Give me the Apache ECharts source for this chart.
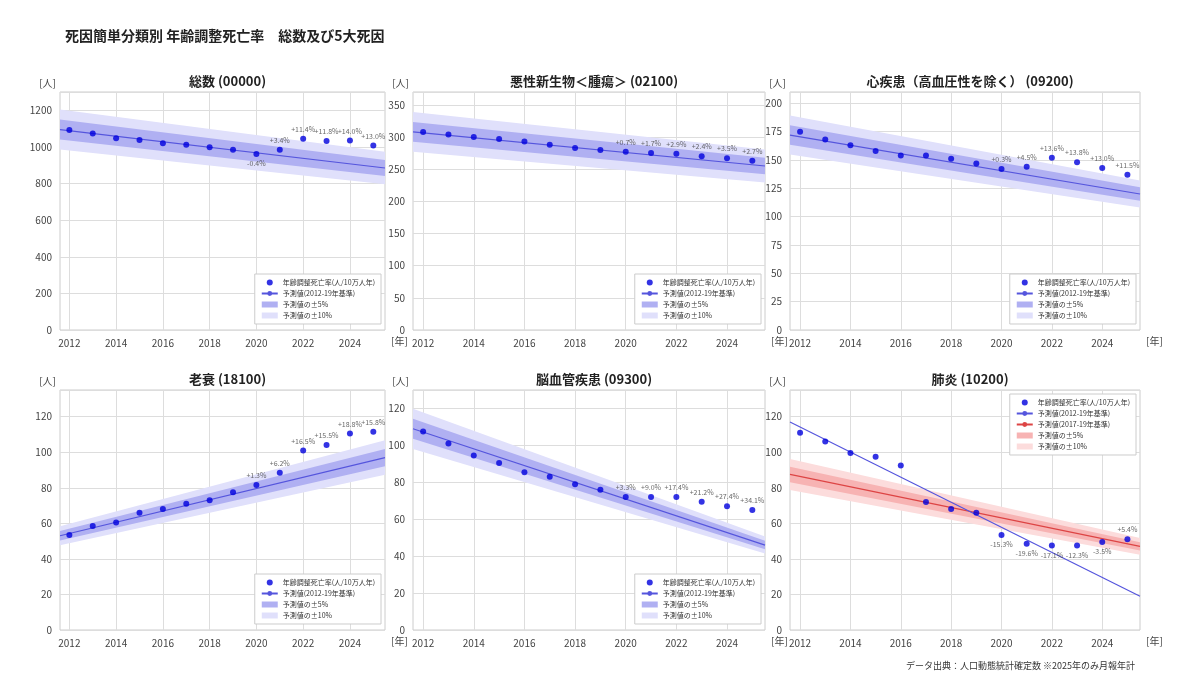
<!DOCTYPE html>
<html><head><meta charset="utf-8">
<script src="https://cdn.jsdelivr.net/npm/echarts@6/dist/echarts.min.js"></script>
<style>html,body{margin:0;background:#fff}#c{width:1200px;height:690px}</style>
</head><body><div id="c"></div>
<script>
// データ
const years = [2012,2013,2014,2015,2016,2017,2018,2019,2020,2021,2022,2023,2024,2025];
const tickYears = [2012,2014,2016,2018,2020,2022,2024];
const titles = ['総数 (00000)','悪性新生物＜腫瘍＞ (02100)','心疾患（高血圧性を除く） (09200)','老衰 (18100)','脳血管疾患 (09300)','肺炎 (10200)'];
const totalVals = [1093,1073,1048,1038,1020,1012,998,985,962,985,1045,1033,1035,1008];
const cancerVals = [308,304,300,297,293,288,283,280,277,275,274,270,267,263];
const heartVals = [175,168,163,158,154,154,151,147,142,144,152,148,143,137];
const senilityVals = [53.5,58.5,60.5,66,68,71,73,77.5,81.5,88.5,101,104,110.5,111.5];
const strokeVals = [107.5,101,94.5,90.5,85.5,83,79,76,72,72,72,69.5,67,65];
const pneumoniaVals = [111,106,99.5,97.5,92.5,72,68,66,53.5,48.5,47.5,47.5,49.5,51];
const totalPct = ['-0.4%','+3.4%','+11.4%','+11.8%','+14.0%','+13.0%'];
const cancerPct = ['+0.7%','+1.7%','+2.9%','+2.4%','+3.5%','+2.7%'];
const heartPct = ['+0.3%','+4.5%','+13.6%','+13.8%','+13.0%','+11.5%'];
const senilityPct = ['+1.3%','+6.2%','+16.5%','+15.5%','+18.8%','+15.8%'];
const strokePct = ['+3.3%','+9.0%','+17.4%','+21.2%','+27.4%','+34.1%'];
const pneumoniaPct = ['-15.3%','-19.6%','-17.1%','-12.3%','-3.5%','+5.4%'];
// 予測線の端点 (2011.6 と 2025.5)
const lineX = [2011.6, 2025.5];
const totalPred = [1095, 885];
const cancerPred = [308, 255];
const heartPred = [172, 120];
const senilityPred = [53, 97];
const strokePred = [109, 46];
const pneumoniaPred1219 = [117, 19];
const pneumoniaPred1719 = [87.5, 47];
const yMax = [1300, 370, 210, 135, 130, 135];
const yStep = [200, 50, 25, 20, 20, 20];

const panels = [
  {vals: totalVals, pct: totalPct, pred: totalPred},
  {vals: cancerVals, pct: cancerPct, pred: cancerPred},
  {vals: heartVals, pct: heartPct, pred: heartPred},
  {vals: senilityVals, pct: senilityPct, pred: senilityPred},
  {vals: strokeVals, pct: strokePct, pred: strokePred},
  {vals: pneumoniaVals, pct: pneumoniaPct, pred: pneumoniaPred1719, extra: pneumoniaPred1219, red: true}
];
const cols = [[60,385],[413,765],[790,1140]];
const rows = [[92,330],[390,630]];

const LP = '年齢調整死亡率(人/10万人年)', L1 = '予測値(2012-19年基準)', L2 = '予測値(2017-19年基準)';
const B5 = '予測値の±5%', B10 = '予測値の±10%';

let grids = [], xAxes = [], yAxes = [], series = [], legends = [], titleList = [];
titleList.push({text: '死因簡単分類別 年齢調整死亡率　総数及び5大死因', left: 60, top: 24,
  textStyle: {fontSize: 14, fontWeight: 'bold', color: '#222'}});
titleList.push({text: 'データ出典：人口動態統計確定数 ※2025年のみ月報年計', right: 60, top: 656,
  textStyle: {fontSize: 9, fontWeight: 'normal', color: '#333'}});

// 帯 (予測値 × (1±f)) を多角形で描く
function band(pred, f) {
  return function (params, api) {
    if (params.dataIndex !== 0) return;
    const up = lineX.map((x, k) => api.coord([x, pred[k] * (1 + f)]));
    const lo = lineX.map((x, k) => api.coord([x, pred[k] * (1 - f)])).reverse();
    return {type: 'polygon', shape: {points: up.concat(lo)}, style: {fill: api.visual('color')}};
  };
}

panels.forEach(function (p, i) {
  const c = cols[i % 3], r = rows[Math.floor(i / 3)];
  grids.push({left: c[0], top: r[0], width: c[1] - c[0], height: r[1] - r[0], show: true, borderColor: '#ccc', borderWidth: 1});
  titleList.push({text: titles[i], left: (c[0] + c[1]) / 2, top: r[0] - 22, textAlign: 'center',
    textStyle: {fontSize: 13, fontWeight: 'bold', color: '#222'}});
  xAxes.push({type: 'value', gridIndex: i, min: 2011.6, max: 2025.5, name: '[年]', nameGap: 6,
    nameTextStyle: {color: '#444', fontSize: 10, verticalAlign: 'top', padding: [6, 0, 0, 0]},
    axisLine: {show: false}, axisTick: {show: false, customValues: tickYears},
    axisLabel: {customValues: tickYears, color: '#444', fontSize: 10, formatter: v => String(v)},
    splitLine: {show: true, lineStyle: {color: '#ddd'}}});
  yAxes.push({type: 'value', gridIndex: i, min: 0, max: yMax[i], interval: yStep[i], name: '[人]',
    nameLocation: 'end', nameGap: 4, nameTextStyle: {color: '#444', fontSize: 10, align: 'right', padding: [0, 4, 0, 0]},
    axisLine: {show: false}, axisTick: {show: false},
    axisLabel: {color: '#444', fontSize: 10, formatter: v => v % yStep[i] === 0 ? String(v) : ''},
    splitLine: {lineStyle: {color: '#ddd'}}});
  const sfx = p.red ? '\u200b' : '';
  const dark = p.red ? '#f7b3b3' : '#b0b0f2', light = p.red ? '#fcdcdc' : '#e0e0fb';
  const bandData = lineX.map((x, k) => [x, p.pred[k]]);
  series.push({type: 'custom', name: B10 + sfx, xAxisIndex: i, yAxisIndex: i, silent: true, z: 1,
    itemStyle: {color: light}, renderItem: band(p.pred, 0.1), data: bandData});
  series.push({type: 'custom', name: B5 + sfx, xAxisIndex: i, yAxisIndex: i, silent: true, z: 2,
    itemStyle: {color: dark}, renderItem: band(p.pred, 0.05), data: bandData});
  series.push({type: 'line', name: p.red ? L2 : L1, xAxisIndex: i, yAxisIndex: i, symbol: 'none', z: 3,
    data: bandData, itemStyle: {color: p.red ? '#dd4444' : '#5555dd'}, lineStyle: {width: 1.2}});
  if (p.extra) {
    series.push({type: 'line', name: L1, xAxisIndex: i, yAxisIndex: i, symbol: 'none', z: 3,
      data: lineX.map((x, k) => [x, p.extra[k]]), itemStyle: {color: '#5555dd'}, lineStyle: {width: 1.2}});
  }
  const off = years.length - p.pct.length;
  series.push({type: 'scatter', name: LP, xAxisIndex: i, yAxisIndex: i, symbolSize: 6, z: 5,
    itemStyle: {color: '#0000dd'},
    data: years.map((y, k) => {
      const t = k >= off ? p.pct[k - off] : '';
      return {value: [y, p.vals[k]], label: {show: t !== '', formatter: t,
        position: t.startsWith('-') ? 'bottom' : 'top', fontSize: 7, color: '#444', distance: 3}};
    })});
  const ld = p.red ? [LP, L1, L2, B5 + sfx, B10 + sfx] : [LP, L1, B5, B10];
  legends.push(Object.assign({
    data: ld.map(n => n === LP ? {name: n, icon: 'circle'} : n.startsWith('予測値の') ? {name: n, icon: 'rect'} : {name: n}),
    orient: 'vertical', itemWidth: 16, itemHeight: 6, itemGap: 4, selectedMode: false,
    textStyle: {fontSize: 7, color: '#333'}, backgroundColor: '#fff', borderColor: '#ccc', borderWidth: 1, padding: [5, 6]
  }, p.red ? {right: 1200 - c[1] + 4, top: r[0] + 4} : {right: 1200 - c[1] + 4, top: r[1] - 56}));
});

const chart = echarts.init(document.getElementById('c'));
chart.setOption({
  animation: false,
  textStyle: {fontFamily: '"Noto Sans CJK JP", "Noto Sans", sans-serif'},
  title: titleList, grid: grids, xAxis: xAxes, yAxis: yAxes, legend: legends, series: series
});
</script></body></html>
